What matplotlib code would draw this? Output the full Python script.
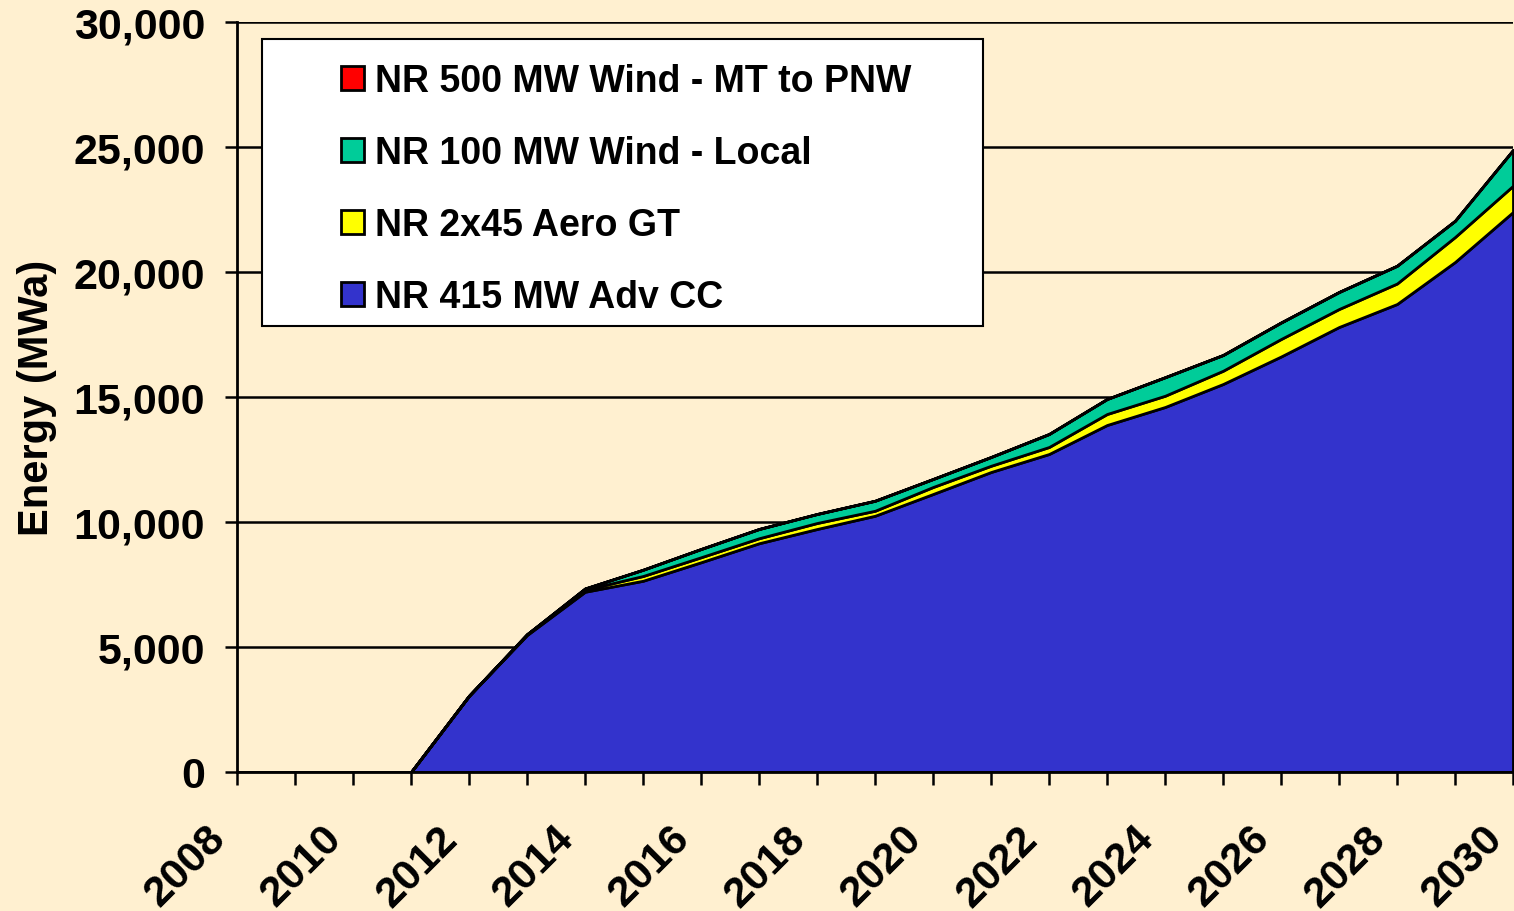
import numpy as np
import matplotlib.pyplot as plt
import matplotlib.transforms as mtransforms
from matplotlib.patches import Rectangle

plt.rcParams['font.family'] = ['Liberation Sans', 'DejaVu Sans']
plt.rcParams['font.weight'] = 'bold'

years = np.arange(2008, 2031)
# NR 415 MW Adv CC
cc = [0, 0, 0, 0, 3050, 5480, 7210, 7650, 8390, 9150, 9720, 10250,
      11120, 12000, 12720, 13880, 14600, 15520, 16620, 17800, 18720, 20400, 22400]
# NR 2x45 Aero GT
gt = [0, 0, 0, 0, 0, 30, 80, 190, 200, 200, 240, 200,
      280, 250, 280, 440, 450, 530, 700, 720, 820, 1000, 1050]
# NR 100 MW Wind - Local
wind_local = [0, 0, 0, 0, 0, 0, 50, 250, 330, 370, 360, 400,
              320, 350, 520, 600, 740, 630, 660, 680, 710, 650, 1430]
# NR 500 MW Wind - MT to PNW
wind_mt = [0] * 23

labels = ['NR 415 MW Adv CC', 'NR 2x45 Aero GT',
          'NR 100 MW Wind - Local', 'NR 500 MW Wind - MT to PNW']
colors = ['#3333CC', '#FFFF00', '#00CC99', '#FF0000']
bg = '#FFF0D0'

fig = plt.figure(figsize=(15.14, 9.12), dpi=100, facecolor=bg)
ax = fig.add_axes([237 / 1514, 1 - 773 / 912, 1276 / 1514, 750 / 912])
ax.set_facecolor(bg)

ax.stackplot(years, cc, gt, wind_local, wind_mt, colors=colors,
             edgecolor='black', linewidth=2, labels=labels, zorder=2)

ax.set_xlim(2008, 2030)
ax.set_ylim(0, 30000)
ax.set_yticks(np.arange(0, 30001, 5000))
ax.set_yticklabels(['{:,}'.format(v) for v in range(0, 30001, 5000)])
ax.set_xticks(np.arange(2008, 2031, 2))
ax.set_xticks(np.arange(2009, 2030, 2), minor=True)
ax.grid(axis='y', color='black', linewidth=1.8, zorder=1)
ax.set_axisbelow(True)

for s in ['top', 'right']:
    ax.spines[s].set_visible(False)
ax.spines['left'].set_linewidth(2)
ax.spines['bottom'].set_linewidth(2)
ax.spines['bottom'].set_zorder(3)

ax.tick_params(axis='y', which='major', length=9, width=1.8,
               labelsize=31, pad=14)
ax.tick_params(axis='x', which='both', length=9, width=1.8)
ax.tick_params(axis='x', which='major', labelsize=31, pad=24)
shift = mtransforms.ScaledTranslation(-0.03, 0, fig.dpi_scale_trans)
for t in ax.get_xticklabels():
    t.set_rotation(45)
    t.set_ha('right')
    t.set_va('top')
    t.set_transform(t.get_transform() + shift)

ax.set_ylabel('Energy (MWa)', fontsize=30, fontweight='bold')
ax.yaxis.set_label_coords(-0.141, 0.5)

# legend box
box = Rectangle(((262 - 237) / 1276, (773 - 327) / 750),
                (983 - 262) / 1276, (327 - 40) / 750,
                transform=ax.transAxes, facecolor='white', edgecolor='black',
                linewidth=1.5, zorder=4.5, clip_on=False)
ax.add_patch(box)
h, l = ax.get_legend_handles_labels()
leg = ax.legend(h[::-1], l[::-1], loc='upper left', frameon=False,
                bbox_to_anchor=((315 - 237) / 1276, (773 - 38) / 750),
                fontsize=27, handlelength=0.6, handleheight=0.6,
                handletextpad=0.3, labelspacing=0.96, borderpad=0.2)
leg.set_zorder(5)

fig.savefig('out.png', dpi=100, facecolor=bg)
